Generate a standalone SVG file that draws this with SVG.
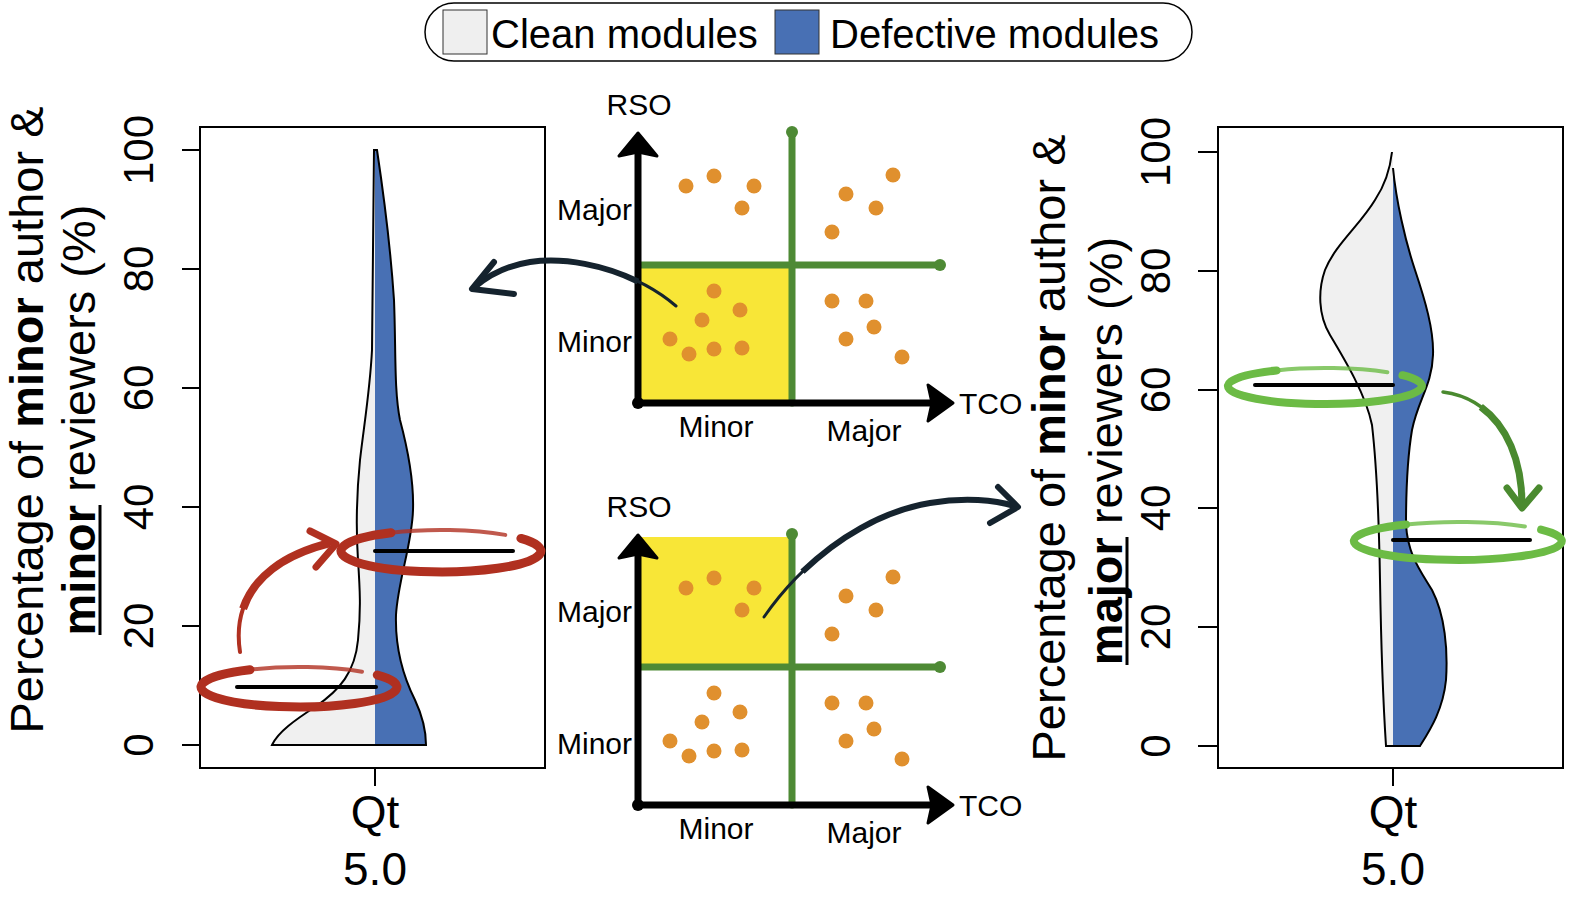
<svg xmlns="http://www.w3.org/2000/svg" width="1589" height="900" viewBox="0 0 1589 900">
<style>
text{font-family:"Liberation Sans",Arial,sans-serif;fill:#000}
.tick{font-size:42px}
.ttl{font-size:47px}
.qt{font-size:46px}
.lab{font-size:30px}
.box{fill:none;stroke:#000;stroke-width:2}
.tk{stroke:#000;stroke-width:2}
.clean{fill:#f0f0f0}
.def{fill:#4870b4}
.outl{fill:none;stroke:#000;stroke-width:2}
.med{stroke:#000;stroke-width:4;stroke-linecap:round}
.axis{stroke:#000;stroke-width:7;stroke-linecap:round;fill:none}
.grn{stroke:#4e8a35;stroke-width:7;stroke-linecap:round;fill:none}
.red{stroke:#b03020;fill:none;stroke-linecap:round;stroke-linejoin:round}
.lg{stroke:#6cbb45;fill:none;stroke-linecap:round}
.navy{stroke:#15232e;fill:none;stroke-linecap:round;stroke-linejoin:round}
.dg{stroke:#4a8a2f;fill:none;stroke-linecap:round;stroke-linejoin:round}
.butt{stroke-linecap:butt}
</style>
<defs>
<g id="dots" fill="#e0902e">
<circle cx="686" cy="186" r="7.5"/><circle cx="714" cy="176" r="7.5"/><circle cx="754" cy="186" r="7.5"/><circle cx="742" cy="208" r="7.5"/>
<circle cx="846" cy="194" r="7.5"/><circle cx="893" cy="175" r="7.5"/><circle cx="876" cy="208" r="7.5"/><circle cx="832" cy="232" r="7.5"/>
<circle cx="714" cy="291" r="7.5"/><circle cx="740" cy="310" r="7.5"/><circle cx="702" cy="320" r="7.5"/><circle cx="670" cy="339" r="7.5"/><circle cx="689" cy="354" r="7.5"/><circle cx="714" cy="349" r="7.5"/><circle cx="742" cy="348" r="7.5"/>
<circle cx="832" cy="301" r="7.5"/><circle cx="866" cy="301" r="7.5"/><circle cx="874" cy="327" r="7.5"/><circle cx="846" cy="339" r="7.5"/><circle cx="902" cy="357" r="7.5"/>
</g>
<g id="axes">
<line class="grn" x1="792" y1="132" x2="792" y2="403"/>
<circle cx="792" cy="132" r="6" fill="#4e8a35"/>
<line class="grn" x1="641" y1="265" x2="940" y2="265"/>
<circle cx="940" cy="265" r="6" fill="#4e8a35"/>
<line class="axis" x1="638" y1="403" x2="638" y2="150"/>
<polygon points="638,133 657,156 638,152 619,156" fill="#000" stroke="#000" stroke-width="3" stroke-linejoin="round"/>
<line class="axis" x1="638" y1="403" x2="932" y2="403"/>
<polygon points="953,403 928,385 932,403 928,421" fill="#000" stroke="#000" stroke-width="3" stroke-linejoin="round"/>
<circle cx="638" cy="403" r="6" fill="#000"/>
<text class="lab" x="639" y="115" text-anchor="middle">RSO</text>
<text class="lab" x="959" y="414">TCO</text>
<text class="lab" x="632" y="220" text-anchor="end">Major</text>
<text class="lab" x="632" y="352" text-anchor="end">Minor</text>
<text class="lab" x="716" y="437" text-anchor="middle">Minor</text>
<text class="lab" x="864" y="441" text-anchor="middle">Major</text>
</g>
</defs>

<g id="legend">
<rect x="425" y="3" width="767" height="58" rx="29" fill="#fff" stroke="#000" stroke-width="1.5"/>
<rect x="443" y="10" width="44" height="44" fill="#efefef" stroke="#333" stroke-width="1"/>
<text x="491" y="48" font-size="40">Clean modules</text>
<rect x="775" y="10" width="44" height="44" fill="#4870b4" stroke="#333" stroke-width="1"/>
<text x="830" y="48" font-size="40">Defective modules</text>
</g>

<g id="left-plot">
<rect class="box" x="200" y="127" width="345" height="641"/>
<line class="tk" x1="182" y1="150" x2="200" y2="150"/>
<line class="tk" x1="182" y1="269" x2="200" y2="269"/>
<line class="tk" x1="182" y1="388" x2="200" y2="388"/>
<line class="tk" x1="182" y1="507" x2="200" y2="507"/>
<line class="tk" x1="182" y1="626" x2="200" y2="626"/>
<line class="tk" x1="182" y1="745" x2="200" y2="745"/>
<line class="tk" x1="375" y1="768" x2="375" y2="786"/>
<text class="tick" transform="translate(153,150) rotate(-90)" text-anchor="middle">100</text>
<text class="tick" transform="translate(153,269) rotate(-90)" text-anchor="middle">80</text>
<text class="tick" transform="translate(153,388) rotate(-90)" text-anchor="middle">60</text>
<text class="tick" transform="translate(153,507) rotate(-90)" text-anchor="middle">40</text>
<text class="tick" transform="translate(153,626) rotate(-90)" text-anchor="middle">20</text>
<text class="tick" transform="translate(153,745) rotate(-90)" text-anchor="middle">0</text>
<text class="ttl" transform="translate(43,420) rotate(-90)" text-anchor="middle">Percentage of <tspan font-weight="bold">minor</tspan> author &amp;</text>
<g transform="translate(95,420) rotate(-90)">
<text class="ttl" x="0" y="0" text-anchor="middle"><tspan font-weight="bold">minor</tspan> reviewers (%)</text>
<line x1="-215" y1="5" x2="-85" y2="5" stroke="#000" stroke-width="3"/>
</g>
<text class="qt" x="375" y="828" text-anchor="middle">Qt</text>
<text class="qt" x="375" y="885" text-anchor="middle">5.0</text>
<path class="clean" d="M375,745 H272 C278,732 295,720 315,707 C340,690 355,672 358,640 C361,610 360,590 358,560 C356,530 357,490 360,460 C364,425 370,390 372,350 L374,150 H375 Z"/>
<path class="def" d="M375,150 H377 C383,190 390,240 394,300 C396,350 394,390 400,420 C408,450 414,480 413,510 C412,545 398,580 396,615 C395,650 405,680 415,700 C422,715 426,730 426,745 H375 Z"/>
<path class="outl" d="M375,745 H272 C278,732 295,720 315,707 C340,690 355,672 358,640 C361,610 360,590 358,560 C356,530 357,490 360,460 C364,425 370,390 372,350 L374,150 H377 C383,190 390,240 394,300 C396,350 394,390 400,420 C408,450 414,480 413,510 C412,545 398,580 396,615 C395,650 405,680 415,700 C422,715 426,730 426,745 H375"/>
<line class="med" x1="237" y1="687" x2="376" y2="687"/>
<line class="med" x1="375" y1="551" x2="513" y2="551"/>
</g>

<g id="chart-top">
<rect x="641" y="265" width="150" height="136" fill="#f8e637"/>
<use href="#axes"/>
<use href="#dots"/>
</g>

<g id="chart-bottom" transform="translate(0,402)">
<rect x="641" y="135" width="150" height="130" fill="#f8e637"/>
<use href="#axes"/>
<use href="#dots"/>
</g>

<g id="right-plot">
<rect class="box" x="1218" y="127" width="345" height="641"/>
<line class="tk" x1="1198" y1="152" x2="1218" y2="152"/>
<line class="tk" x1="1198" y1="271" x2="1218" y2="271"/>
<line class="tk" x1="1198" y1="390" x2="1218" y2="390"/>
<line class="tk" x1="1198" y1="508" x2="1218" y2="508"/>
<line class="tk" x1="1198" y1="627" x2="1218" y2="627"/>
<line class="tk" x1="1198" y1="746" x2="1218" y2="746"/>
<line class="tk" x1="1393" y1="768" x2="1393" y2="786"/>
<text class="tick" transform="translate(1170,152) rotate(-90)" text-anchor="middle">100</text>
<text class="tick" transform="translate(1170,271) rotate(-90)" text-anchor="middle">80</text>
<text class="tick" transform="translate(1170,390) rotate(-90)" text-anchor="middle">60</text>
<text class="tick" transform="translate(1170,508) rotate(-90)" text-anchor="middle">40</text>
<text class="tick" transform="translate(1170,627) rotate(-90)" text-anchor="middle">20</text>
<text class="tick" transform="translate(1170,746) rotate(-90)" text-anchor="middle">0</text>
<text class="ttl" transform="translate(1065,448) rotate(-90)" text-anchor="middle">Percentage of <tspan font-weight="bold">minor</tspan> author &amp;</text>
<g transform="translate(1122,451) rotate(-90)">
<text class="ttl" x="0" y="0" text-anchor="middle"><tspan font-weight="bold">major</tspan> reviewers (%)</text>
<line x1="-214" y1="5" x2="-86" y2="5" stroke="#000" stroke-width="3"/>
</g>
<text class="qt" x="1393" y="828" text-anchor="middle">Qt</text>
<text class="qt" x="1393" y="885" text-anchor="middle">5.0</text>
<path class="clean" d="M1386,746 C1383,700 1381,640 1380,580 C1379,520 1376,460 1372,425 C1366,395 1345,360 1330,335 C1318,315 1318,290 1325,270 C1335,245 1360,225 1375,200 C1385,185 1390,170 1392,152 L1393,152 V746 Z"/>
<path class="def" d="M1393,168 C1396,200 1405,240 1415,270 C1425,300 1434,330 1433,355 C1432,385 1418,400 1412,430 C1407,460 1406,500 1406,525 C1408,555 1420,570 1432,590 C1445,615 1448,650 1446,680 C1443,710 1430,730 1420,746 L1393,746 Z"/>
<path class="outl" d="M1393,746 H1386 C1383,700 1381,640 1380,580 C1379,520 1376,460 1372,425 C1366,395 1345,360 1330,335 C1318,315 1318,290 1325,270 C1335,245 1360,225 1375,200 C1385,185 1390,170 1392,152"/>
<path class="outl" d="M1393,168 C1396,200 1405,240 1415,270 C1425,300 1434,330 1433,355 C1432,385 1418,400 1412,430 C1407,460 1406,500 1406,525 C1408,555 1420,570 1432,590 C1445,615 1448,650 1446,680 C1443,710 1430,730 1420,746 L1393,746"/>
<line class="med" x1="1255" y1="385" x2="1393" y2="385"/>
<line class="med" x1="1393" y1="540" x2="1530" y2="540"/>
</g>

<g id="connectors">
<path class="red" stroke-width="9" d="M377.3,675 A98 20 0 1 1 250,669.7"/>
<path class="red" stroke-width="4" opacity="0.8" d="M250,669.7 A98 20 0 0 1 362,671.7"/>
<path class="red" stroke-width="9" d="M520.9,538.4 A100 21 0 1 1 391,532.8"/>
<path class="red" stroke-width="4" opacity="0.8" d="M391,532.8 A100 21 0 0 1 505.3,534.9"/>
<path class="red" stroke-width="4" d="M240,652 C232,600 262,560 330,543"/>
<path class="red butt" stroke-width="8" d="M243.1,608.7 C253.4,578.1 282.4,554.9 330,543"/>
<polyline class="red" stroke-width="7" points="310,531 336,544 316,567"/>
<path class="lg" stroke-width="8" d="M1402.5,375.2 A97 18 0 1 1 1276.5,370.4"/>
<path class="lg" stroke-width="4" opacity="0.8" d="M1276.5,370.4 A97 18 0 0 1 1387.4,372.2"/>
<path class="lg" stroke-width="8" d="M1541.1,529.6 A104 19 0 1 1 1406,524.5"/>
<path class="lg" stroke-width="4" opacity="0.8" d="M1406,524.5 A104 19 0 0 1 1524.9,526.4"/>
<path class="dg" stroke-width="3.5" d="M1443,392 C1490,398 1522,440 1522,505"/>
<path class="dg butt" stroke-width="7" d="M1480.8,406.8 C1506.3,425.3 1522,459.5 1522,505"/>
<polyline class="dg" stroke-width="7" points="1507,488 1522,508 1539,488"/>
<path class="navy" stroke-width="3" d="M676,306 C640,275 580,255 530,262 C505,266 488,276 476,286"/>
<path class="navy butt" stroke-width="6" d="M638,281.5 C604.9,265.4 565,257.1 530,262 C505,266 488,276 476,286"/>
<polyline class="navy" stroke-width="6" points="494,262 472,289 514,294"/>
<path class="navy" stroke-width="3" d="M764,617 C800,565 860,515 930,503 C965,497 995,500 1014,506"/>
<path class="navy butt" stroke-width="6" d="M802.5,571.7 C836.9,538.4 881,511.4 930,503 C965,497 995,500 1014,506"/>
<polyline class="navy" stroke-width="6" points="998,487 1018,507 990,523"/>
</g>
</svg>
